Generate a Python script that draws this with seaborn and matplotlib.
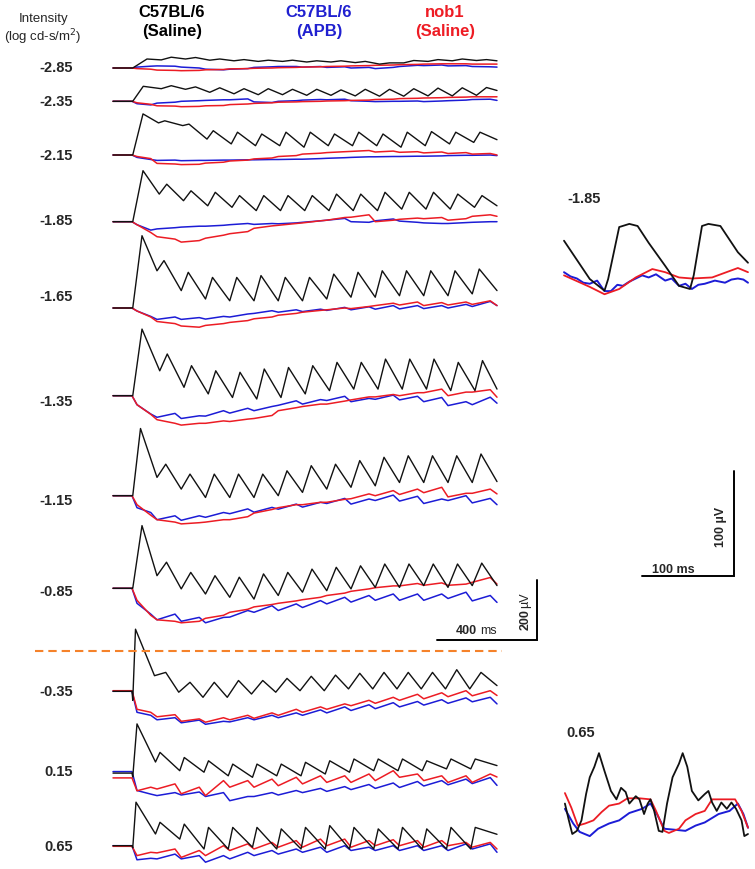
import numpy as np
import matplotlib
matplotlib.use("Agg")
import matplotlib.pyplot as plt
import seaborn as sns

sns.set_theme(style="white")
plt.rcParams['font.family'] = ['Liberation Sans', 'DejaVu Sans']

# ---------------- data (µV) ----------------
intensities = ["-2.85", "-2.35", "-2.15", "-1.85", "-1.65", "-1.35",
               "-1.15", "-0.85", "-0.35", "0.15", "0.65"]

# timing of flicker responses (ms)
flicker_period_ms = 97.0
first_peak_ms = [60, 45, 44, 44, 40, 40, 34, 40, 14, 20, 16]
peak_ms = [60, 60, 34, 42, 31, 44, 38, 41, 38, 15, 15]
rise_ms = [40, 40, 25, 30, 28, 30, 35, 38, 45, 18, 18]

# each trace: [pre, onset, lo0, hi0, lo1, hi1, ..., lo14, hi14, end]
blk_n285 = [0, 0, 0, 30, 27, 36, 30, 35, 26, 30, 24, 28, 22, 26, 22, 26, 20, 24, 20, 24, 18, 22, 13, 17, 17, 25, 22, 28, 24, 30, 25, 28, 24]
red_n285 = [0, 0, -2, -4, -7, -8, -9, -8, -6, -5, -3, -2, -1, 0, 1, 2, 3, 4, 5, 6, 7, 8, 9, 10, 11, 12, 13, 14, 14, 14, 13, 13, 13]
blu_n285 = [0, 0, 3, 6, 7, 6, 3, 0, -4, -6, -4, -2, 2, 4, 5, 5, 3, 5, 2, 4, 0, 2, -2, 2, 5, 9, 8, 10, 7, 8, 5, 4, 3]

blk_n235 = [0, 0, 0, 50, 42, 52, 40, 48, 30, 45, 25, 42, 22, 42, 22, 40, 20, 40, 20, 38, 18, 40, 17, 40, 17, 42, 18, 44, 18, 45, 20, 46, 36]
red_n235 = [0, 0, -5, -10, -15, -16, -18, -17, -15, -14, -11, -9, -7, -5, -3, -2, -1, 0, 1, 2, 3, 4, 6, 7, 9, 10, 11, 12, 13, 14, 15, 15, 15]
blu_n235 = [0, 0, -8, -12, -6, -3, 0, 2, 3, 5, 5, 8, -2, -4, 0, 2, 4, 6, 5, 7, 2, 0, -1, 0, 0, 1, -1, 1, 2, 4, 6, 7, 3]

blk_n215 = [0, 0, 0, 137, 107, 114, 98, 103, 53, 81, 37, 76, 31, 70, 31, 76, 26, 76, 31, 70, 31, 76, 31, 70, 26, 76, 31, 78, 37, 76, 42, 76, 51]
red_n215 = [0, 0, -5, -12, -28, -30, -32, -31, -27, -24, -20, -17, -13, -10, -5, -2, 3, 6, 8, 11, 12, 15, 10, 13, 9, 11, 7, 10, 5, 8, 3, 5, 0]
blu_n215 = [0, 0, -8, -15, -18, -17, -19, -18, -18, -17, -17, -16, -16, -15, -15, -14, -14, -12, -11, -9, -8, -6, -6, -5, -5, -4, -4, -3, -2, -1, -1, 0, -2]

blk_n185 = [0, 0, 0, 170, 92, 125, 70, 103, 53, 98, 48, 87, 37, 87, 37, 87, 37, 87, 37, 92, 37, 92, 37, 98, 42, 98, 42, 98, 42, 92, 48, 87, 53]
red_n185 = [0, 0, -10, -36, -50, -58, -68, -63, -55, -45, -40, -33, -22, -14, -12, -6, -4, 3, 5, 14, 15, 23, 0, 5, 8, 12, 10, 14, 5, 10, 18, 23, 18]
blu_n185 = [0, 0, -10, -28, -24, -20, -18, -15, -15, -12, -10, -6, -9, -6, -7, -4, -2, 3, 5, 11, 0, -2, 3, 9, 2, -2, -4, -6, -6, -3, -2, 0, 0]

blk_n165 = [0, 0, 0, 241, 124, 158, 58, 119, 30, 102, 24, 102, 24, 108, 24, 102, 24, 102, 30, 113, 36, 119, 36, 124, 41, 124, 41, 124, 41, 124, 47, 130, 58]
red_n165 = [0, 0, -10, -30, -45, -52, -60, -64, -58, -52, -48, -42, -36, -30, -24, -18, -14, -8, -6, 0, -2, 5, 8, 16, 10, 20, 8, 18, 10, 20, 12, 24, 8]
blu_n165 = [0, 0, -10, -28, -38, -30, -38, -32, -37, -28, -30, -20, -18, -9, -14, -6, -12, -4, -8, 2, -6, 4, -4, 8, -3, 8, -2, 8, 0, 12, 5, 22, 8]

blk_n135 = [0, 0, 0, 222, 83, 139, 28, 100, 6, 83, -6, 78, -11, 89, -6, 94, 6, 100, 17, 111, 22, 111, 22, 122, 22, 122, 22, 122, 17, 111, 17, 117, 22]
red_n135 = [0, 0, -30, -62, -80, -92, -98, -92, -92, -84, -86, -78, -76, -66, -50, -40, -36, -28, -28, -18, -14, -4, -4, 4, 0, 10, 10, 22, 0, 12, 12, 20, -5]
blu_n135 = [0, 0, -30, -61, -72, -59, -76, -67, -68, -50, -58, -42, -50, -36, -32, -17, -28, -13, -16, -2, -20, -9, -12, 2, -14, -2, -20, -6, -33, -20, -30, -5, -25]

blk_n115 = [0, 0, 0, 224, 61, 105, 22, 72, -6, 72, -6, 72, -6, 72, 0, 83, 11, 100, 22, 105, 28, 117, 33, 128, 44, 133, 44, 133, 44, 133, 44, 139, 47]
red_n115 = [0, 0, -30, -65, -80, -88, -94, -90, -88, -80, -80, -70, -58, -46, -40, -30, -30, -22, -22, -12, -10, 6, 0, 17, 4, 22, 10, 28, -4, 8, 8, 22, 6]
blu_n115 = [0, 0, -40, -56, -80, -67, -82, -67, -72, -56, -60, -44, -55, -39, -45, -28, -38, -22, -26, -9, -28, -11, -16, 2, -18, -2, -26, -11, -16, 0, -24, -9, -30]

blk_n085 = [0, 0, 0, 209, 42, 87, -2, 53, -19, 42, -30, 37, -36, 48, -24, 53, -13, 64, -8, 70, -2, 75, 3, 81, 3, 81, 9, 81, 3, 81, 9, 84, 9]
red_n085 = [0, 0, -40, -90, -105, -110, -115, -110, -100, -90, -80, -70, -62, -54, -50, -42, -38, -30, -24, -16, -10, -2, 2, 8, 8, 16, 10, 18, 10, 14, 20, 36, 14]
blu_n085 = [0, 0, -50, -86, -105, -86, -110, -97, -115, -97, -96, -74, -80, -58, -74, -52, -64, -41, -52, -30, -46, -24, -40, -19, -40, -19, -40, -19, -34, -13, -42, -24, -47]

blk_n035 = [0, 0, -30, 207, 52, 63, -3, 30, -20, 30, -20, 36, -9, 36, -3, 43, 2, 50, 2, 54, 8, 60, 8, 63, 8, 63, 8, 63, 8, 72, 8, 63, 19]
red_n035 = [2, 2, -60, -70, -85, -78, -100, -92, -103, -88, -95, -80, -90, -72, -80, -60, -70, -52, -60, -42, -48, -30, -40, -20, -30, -10, -25, -5, -18, 2, -15, 2, -14]
blu_n035 = [0, 0, -70, -80, -95, -88, -105, -96, -110, -100, -102, -88, -95, -80, -88, -72, -80, -62, -72, -52, -64, -45, -58, -38, -52, -34, -46, -28, -40, -22, -35, -20, -42]

blk_p015 = [3, 3, -10, 167, 40, 72, 11, 55, 6, 44, -6, 33, -11, 33, -6, 33, -6, 39, 0, 44, 6, 50, 11, 50, 11, 50, 11, 44, 17, 50, 17, 50, 28]
red_p015 = [-13, -13, -56, -44, -50, -33, -66, -44, -72, -22, -44, -22, -44, -17, -39, -11, -33, -6, -28, -6, -28, 0, -22, 11, -11, 0, -22, -6, -28, -6, -28, 0, -10]
blu_p015 = [8, 8, -55, -67, -72, -62, -70, -60, -75, -62, -89, -75, -75, -62, -70, -55, -62, -48, -58, -42, -52, -35, -48, -30, -45, -25, -40, -22, -36, -17, -32, -12, -38]

blk_p065 = [2, 2, -5, 147, 41, 80, 24, 74, -9, 63, -9, 63, -3, 63, -9, 58, -9, 63, -9, 69, -9, 63, -9, 58, -9, 63, -9, 58, -9, 63, -9, 63, 40]
red_p065 = [0, 0, -31, -20, -22, -9, -37, -14, -31, 2, -14, 8, -9, 13, -3, 19, -3, 24, 2, 24, -3, 19, 2, 22, 2, 19, -3, 19, 2, 13, -3, 13, -9]
blu_p065 = [2, 2, -45, -40, -42, -26, -42, -31, -53, -31, -42, -20, -31, -14, -26, -9, -20, -3, -20, 2, -14, -3, -14, 2, -14, 2, -14, 2, -14, 8, -9, 8, -20]

black_traces = [blk_n285, blk_n235, blk_n215, blk_n185, blk_n165, blk_n135,
                blk_n115, blk_n085, blk_n035, blk_p015, blk_p065]
red_traces = [red_n285, red_n235, red_n215, red_n185, red_n165, red_n135,
              red_n115, red_n085, red_n035, red_p015, red_p065]
blue_traces = [blu_n285, blu_n235, blu_n215, blu_n185, blu_n165, blu_n135,
               blu_n115, blu_n085, blu_n035, blu_p015, blu_p065]

# insets (ms, µV) -- two flicker cycles enlarged
ins185_blk_t = [0, 28, 44, 48, 60, 71, 80, 92, 110, 125, 137, 141, 150, 157, 170, 189, 200]
ins185_blk_v = [46, 9.5, -1.6, 9.5, 59, 62, 60, 44, 22, 3, 0, 13, 60, 62, 60, 35, 25]
ins185_red_t = [0, 28, 44, 60, 78, 96, 110, 125, 139, 161, 189, 200]
ins185_red_v = [13, 2, -5, 0, 11, 19, 16, 11, 10, 11, 20, 16]
ins185_blu_t = [0, 7, 14, 21, 28, 36, 44, 51, 58, 64, 71, 78, 85, 92, 100, 110, 117, 125, 132, 139, 146, 153, 164, 175, 182, 189, 195, 200]
ins185_blu_v = [16, 12, 10, 6, 5, 8, -2, -2, 4, 3, 7, 10, 13, 11, 14, 8, 10, 3, 5, 0, 4, 5, 8, 6, 9, 10, 9, 6]

ins065_blk_t = [1, 5, 9, 14, 19, 24, 28, 33, 38, 44, 51, 57, 62, 67, 71, 78, 82, 87, 91, 94, 98, 103, 107, 112, 118, 125, 129, 134, 139, 146, 153, 157, 161, 166, 171, 177, 182, 187, 193, 196, 200]
ins065_blk_v = [29, 14, 0, 3, 13, 38, 54, 64, 77, 60, 41, 33, 44, 40, 29, 36, 33, 19, 29, 33, 22, 3, 2, 29, 54, 67, 77, 64, 41, 32, 38, 41, 30, 22, 30, 24, 30, 24, 13, -2, 0]
ins065_red_t = [1, 8, 15, 23, 32, 41, 49, 60, 69, 82, 94, 100, 109, 114, 125, 132, 143, 153, 161, 175, 186, 193, 200]
ins065_red_v = [39, 25, 8, 10, 13, 21, 27, 29, 34, 34, 33, 22, 3, 1, 5, 13, 19, 22, 33, 33, 33, 22, 6]
ins065_blu_t = [1, 10, 17, 28, 37, 49, 60, 71, 85, 94, 101, 109, 121, 132, 143, 153, 168, 180, 189, 195, 200]
ins065_blu_v = [24, 10, 2, -2, 5, 10, 13, 20, 24, 29, 19, 5, 4, 3, 8, 11, 19, 22, 29, 19, 6]

# ---------------- layout (pixels of the 755x870 figure) ----------------
W, H = 755, 870
MAIN_X0, PX_PER_MS, PX_PER_UV = 132.0, 0.25, 0.3
row_base_px = [69, 102.3, 156, 222.7, 309, 396.7, 496.7, 589.3, 692.3, 775, 847.3]
label_y_px = [68, 102, 156, 221, 297, 402, 501, 592, 692, 772, 847]
C_BLACK, C_BLUE, C_RED = "#111111", "#1c1cd6", "#ec1c24"
C_BLUE_TXT, C_RED_TXT = "#2020d0", "#ee1c24"

fig = plt.figure(figsize=(W / 100, H / 100), dpi=100)
ax = fig.add_axes([0, 0, 1, 1])
ax.set_xlim((0 - MAIN_X0) / PX_PER_MS, (W - MAIN_X0) / PX_PER_MS)
ax.set_ylim(0, H / PX_PER_UV)
ax.axis("off")


def fx(x):
    return x / W


def fy(y):
    return 1 - y / H


def black_times(fp, pk, rise):
    t = [-76, 0, 3, fp]
    for k in range(1, 15):
        t += [k * flicker_period_ms + pk - rise, k * flicker_period_ms + pk]
    t.append(1460)
    return np.array(t, dtype=float)


def rb_times():
    t = [-76, 0, 20, 75]
    for k in range(1, 15):
        t += [k * flicker_period_ms + 3, k * flicker_period_ms + 75]
    t.append(1460)
    return np.array(t, dtype=float)


t_rb = rb_times()
for i in range(len(intensities)):
    off = (H - row_base_px[i]) / PX_PER_UV
    t_bk = black_times(first_peak_ms[i], peak_ms[i], rise_ms[i])
    sns.lineplot(x=t_rb, y=np.array(blue_traces[i]) + off, ax=ax, color=C_BLUE,
                 lw=1.1, estimator=None, sort=False, legend=False)
    sns.lineplot(x=t_rb, y=np.array(red_traces[i]) + off, ax=ax, color=C_RED,
                 lw=1.1, estimator=None, sort=False, legend=False)
    sns.lineplot(x=t_bk, y=np.array(black_traces[i]) + off, ax=ax, color=C_BLACK,
                 lw=1.0, estimator=None, sort=False, legend=False)
    fig.text(fx(73), fy(label_y_px[i]), intensities[i], ha="right", va="center",
             fontsize=10.5, fontweight="bold")

# orange dashed divider
y_div = (H - 652.3) / PX_PER_UV
ax.plot([(35 - MAIN_X0) / PX_PER_MS, (502 - MAIN_X0) / PX_PER_MS], [y_div, y_div],
        color="#f5822a", lw=1.5, linestyle=(0, (4, 2.4)))

# main scale bar: 400 ms, 200 µV
sb_t1 = (537 - MAIN_X0) / PX_PER_MS
sb_y0 = (H - 640.7) / PX_PER_UV
ax.plot([sb_t1 - 400, sb_t1, sb_t1], [sb_y0, sb_y0, sb_y0 + 200], color="black", lw=1.4,
        solid_joinstyle="miter")
fig.text(fx(477), fy(631), "400", ha="right", va="center", fontsize=9, fontweight="bold")
fig.text(fx(480), fy(631), "ms", ha="left", va="center", fontsize=9)
fig.text(fx(525.5), fy(620), "200", ha="center", va="center", fontsize=9,
         fontweight="bold", rotation=90)
fig.text(fx(525.5), fy(600), "µV", ha="center", va="center", fontsize=9, rotation=90)

# headers
fig.text(fx(44), fy(19), "Intensity", ha="center", va="center", fontsize=9.5)
fig.text(fx(43), fy(37.5), "(log cd-s/m$^2$)", ha="center", va="center", fontsize=9.5)
for xc, top, bot, col in [(172, "C57BL/6", "(Saline)", "black"),
                          (319, "C57BL/6", "(APB)", C_BLUE_TXT),
                          (445, "nob1", "(Saline)", C_RED_TXT)]:
    fig.text(fx(xc), fy(12.5), top, ha="center", va="center", fontsize=12,
             fontweight="bold", color=col)
    fig.text(fx(xc), fy(31.5), bot, ha="center", va="center", fontsize=12,
             fontweight="bold", color=col)

# ---------------- insets ----------------
INS_X0, INS_PX_MS, INS_PX_UV = 564.0, 0.92, 1.05
ax2 = fig.add_axes([540 / W, 0, 215 / W, 1])
ax2.set_xlim((540 - INS_X0) / INS_PX_MS, (755 - INS_X0) / INS_PX_MS)
ax2.set_ylim(0, H / INS_PX_UV)
ax2.axis("off")

for base_px, bt, bv, rt, rv, ut, uv in [
        (290, ins185_blk_t, ins185_blk_v, ins185_red_t, ins185_red_v, ins185_blu_t, ins185_blu_v),
        (835, ins065_blk_t, ins065_blk_v, ins065_red_t, ins065_red_v, ins065_blu_t, ins065_blu_v)]:
    off = (H - base_px) / INS_PX_UV
    sns.lineplot(x=ut, y=np.array(uv) + off, ax=ax2, color=C_BLUE, lw=1.4,
                 estimator=None, sort=False, legend=False)
    sns.lineplot(x=rt, y=np.array(rv) + off, ax=ax2, color=C_RED, lw=1.3,
                 estimator=None, sort=False, legend=False)
    sns.lineplot(x=bt, y=np.array(bv) + off, ax=ax2, color=C_BLACK, lw=1.3,
                 estimator=None, sort=False, legend=False)

fig.text(fx(567), fy(199), "-1.85", ha="left", va="center", fontsize=10.5, fontweight="bold")
fig.text(fx(566), fy(733), "0.65", ha="left", va="center", fontsize=10.5, fontweight="bold")

# inset scale bar: 100 ms, 100 µV
isb_t1 = (734 - INS_X0) / INS_PX_MS
isb_y0 = (H - 577) / INS_PX_UV
ax2.plot([isb_t1 - 100, isb_t1, isb_t1], [isb_y0, isb_y0, isb_y0 + 100], color="black",
         lw=1.4, solid_joinstyle="miter")
fig.text(fx(673), fy(570), "100 ms", ha="center", va="center", fontsize=9, fontweight="bold")
fig.text(fx(721), fy(527), "100 µV", ha="center", va="center", fontsize=9,
         fontweight="bold", rotation=90)

fig.savefig("out.png", dpi=100)
